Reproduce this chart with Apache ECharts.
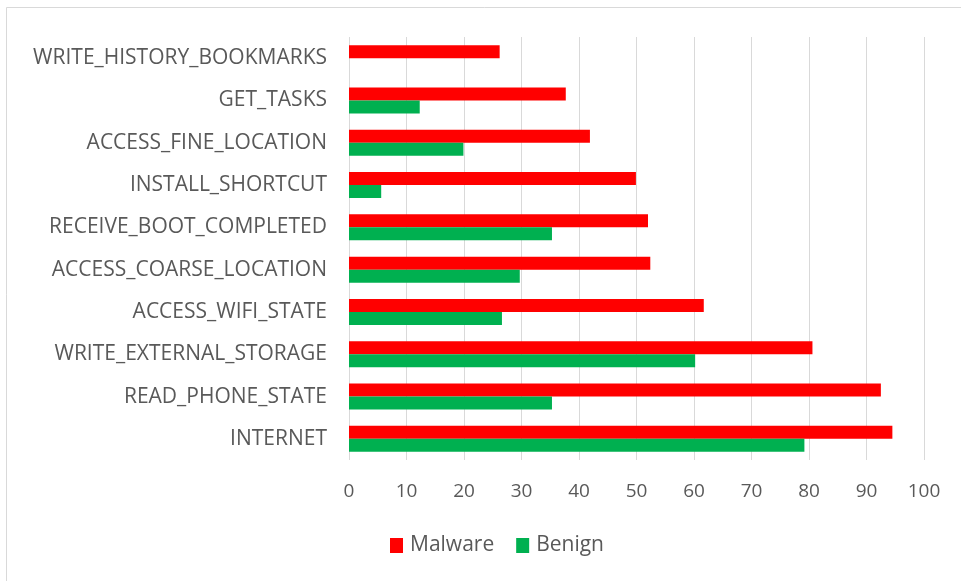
<!DOCTYPE html>
<html>

<head lang="en">
    <meta charset="utf-8">
    <title>permissions</title>
    <script src="https://cdn.jsdelivr.net/npm/echarts@6/dist/echarts.min.js"></script>
    <style>
        body { margin: 0; background: #fff; }
    </style>
</head>

<body>
    <div id="chart" style="width: 961px;height:581px;"></div>
    <script type="text/javascript">
        var myChart = echarts.init(document.getElementById('chart'));

        /*---------------------data----------------------------*/
        // top to bottom, as in the picture
        var permissions = ['WRITE_HISTORY_BOOKMARKS', 'GET_TASKS', 'ACCESS_FINE_LOCATION', 'INSTALL_SHORTCUT',
            'RECEIVE_BOOT_COMPLETED', 'ACCESS_COARSE_LOCATION', 'ACCESS_WIFI_STATE', 'WRITE_EXTERNAL_STORAGE',
            'READ_PHONE_STATE', 'INTERNET'];
        var malware = [26.2, 37.7, 41.9, 49.9, 52.0, 52.4, 61.7, 80.6, 92.5, 94.5];
        var benign = [0, 12.3, 19.9, 5.6, 35.3, 29.7, 26.6, 60.2, 35.3, 79.2];
        var xTicks = [0, 100, 10];   // min, max, step

        var textColor = '#595959';
        var font = 'Open Sans';

        var option = {
            backgroundColor: '#fff',
            textStyle: { fontFamily: font },
            graphic: [{
                type: 'rect',
                shape: { x: 6.5, y: 7.5, width: 1000, height: 1000 },
                style: { fill: 'none', stroke: '#d9d9d9', lineWidth: 1 },
                silent: true
            }],
            grid: {
                left: 349,
                right: 37,
                top: 37,
                bottom: 121
            },
            legend: {
                data: ['Malware', 'Benign'],
                left: 385,
                top: 530,
                itemWidth: 13,
                itemHeight: 15,
                itemGap: 22,
                icon: 'rect',
                textStyle: { color: textColor, fontSize: 21, fontFamily: font, padding: [0, 0, 0, 2] }
            },
            xAxis: {
                type: 'value',
                min: xTicks[0],
                max: xTicks[1],
                interval: xTicks[2],
                axisLine: { show: false },
                axisTick: { show: false },
                axisLabel: { color: textColor, fontSize: 19, margin: 22, fontFamily: font },
                splitLine: { lineStyle: { color: '#d9d9d9', width: 1 } }
            },
            yAxis: {
                type: 'category',
                data: permissions,
                inverse: true,
                axisLine: { show: false },
                axisTick: { show: false },
                axisLabel: { color: textColor, fontSize: 21, margin: 22, fontFamily: font },
                splitLine: { show: false }
            },
            series: [{
                name: 'Malware',
                type: 'bar',
                data: malware,
                barWidth: 13,
                barGap: '0%',
                itemStyle: { color: '#ff0000' }
            }, {
                name: 'Benign',
                type: 'bar',
                data: benign,
                barWidth: 13,
                barGap: '0%',
                itemStyle: { color: '#00b050' }
            }]
        };
        myChart.setOption(option);
    </script>
</body>

</html>
